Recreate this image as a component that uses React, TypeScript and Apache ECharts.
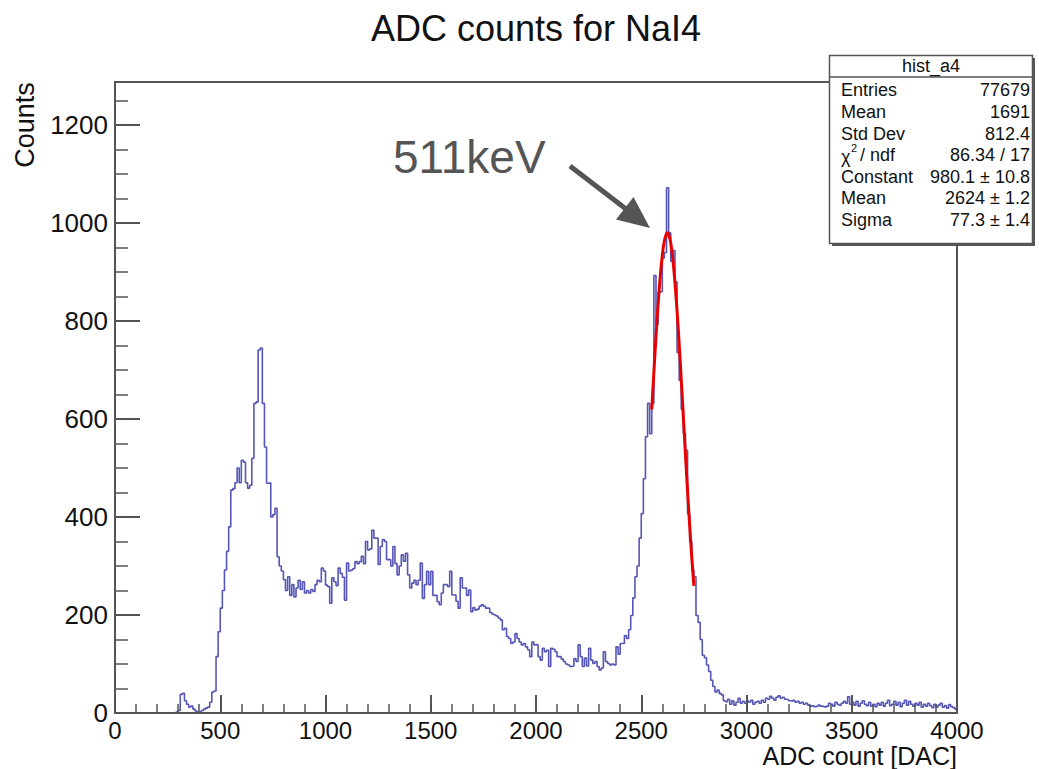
import React, { useEffect, useRef } from "react";
import * as echarts from "echarts";

// ---------- data ----------
const BIN_WIDTH = 10;
const X_MIN = 0;
const X_MAX = 4000;
const Y_MAX = 1288;

// histogram counts, one row per 100 ADC units (10 bins of width 10)
const counts: number[] = [
  0, 0, 0, 0, 0, 0, 0, 0, 0, 0, // 0
  0, 0, 0, 0, 0, 0, 0, 0, 0, 0, // 100
  0, 0, 0, 0, 0, 0, 0, 0, 0, 2, // 200
  5, 38, 40, 25, 18, 12, 14, 8, 4, 2, // 300
  3, 5, 8, 10, 12, 22, 43, 45, 115, 166, // 400
  214, 250, 292, 330, 380, 455, 458, 470, 500, 470, // 500
  516, 512, 470, 459, 465, 520, 632, 635, 741, 745, // 600
  632, 543, 469, 470, 400, 405, 418, 319, 300, 290, // 700
  272, 250, 278, 240, 262, 237, 255, 271, 252, 268, // 800
  245, 250, 245, 252, 248, 262, 271, 268, 296, 290, // 900
  261, 258, 224, 276, 268, 260, 296, 285, 277, 230, // 1000
  306, 290, 292, 295, 309, 305, 309, 320, 305, 350, // 1100
  333, 335, 373, 357, 357, 303, 340, 354, 350, 313, // 1200
  313, 300, 340, 305, 282, 300, 323, 310, 326, 282, // 1300
  255, 265, 271, 262, 271, 306, 234, 262, 289, 262, // 1400
  289, 240, 240, 227, 221, 245, 262, 262, 258, 289, // 1500
  241, 241, 228, 214, 276, 255, 255, 240, 251, 207, // 1600
  215, 210, 212, 218, 221, 218, 214, 214, 205, 202, // 1700
  200, 198, 194, 190, 170, 173, 156, 152, 142, 145, // 1800
  162, 152, 145, 139, 142, 135, 129, 115, 145, 139, // 1900
  140, 115, 108, 132, 125, 128, 95, 132, 130, 125, // 2000
  115, 115, 110, 105, 100, 98, 95, 96, 111, 105, // 2100
  139, 115, 95, 112, 96, 132, 108, 101, 105, 95, // 2200
  88, 92, 125, 105, 101, 98, 100, 98, 135, 120, // 2300
  142, 142, 158, 152, 170, 199, 235, 278, 300, 357, // 2400
  407, 478, 564, 632, 570, 632, 893, 793, 858, 860, // 2500
  929, 940, 1072, 980, 922, 944, 880, 736, 679, 620, // 2600
  571, 536, 407, 350, 292, 278, 199, 185, 150, 118, // 2700
  113, 98, 85, 67, 54, 43, 47, 40, 37, 25, // 2800
  23, 28, 18, 25, 16, 22, 30, 20, 24, 20, // 2900
  25, 22, 26, 18, 22, 24, 20, 26, 22, 30, // 3000
  28, 34, 30, 26, 32, 35, 30, 32, 28, 27, // 3100
  25, 24, 26, 22, 24, 20, 22, 18, 20, 16, // 3200
  14, 15, 13, 14, 16, 14, 13, 12, 14, 20, // 3300
  18, 14, 22, 18, 16, 20, 24, 20, 33, 18, // 3400
  22, 16, 24, 14, 20, 25, 18, 15, 22, 14, // 3500
  18, 13, 20, 16, 22, 14, 20, 26, 15, 18, // 3600
  24, 16, 22, 13, 20, 26, 16, 24, 18, 14, // 3700
  20, 16, 22, 12, 18, 14, 20, 15, 11, 18, // 3800
  12, 16, 20, 12, 15, 10, 17, 13, 11, 8, // 3900
];

// Gaussian fit curve (red), sampled points
const fitX = [2550, 2560, 2570, 2580, 2590, 2600, 2610, 2620, 2624, 2630, 2640, 2650, 2660, 2670, 2680, 2690, 2700, 2710, 2720, 2730, 2740, 2750];
const fitY = [619.8, 695.7, 767.9, 833.5, 889.7, 933.9, 964.1, 978.8, 980.1, 977.2, 959.3, 926.2, 879.3, 821.0, 753.9, 680.7, 604.5, 527.8, 453.3, 382.8, 317.8, 259.6];

const titleText = "ADC counts for NaI4";
const xAxisTitle = "ADC count [DAC]";
const yAxisTitle = "Counts";
const annotationText = "511keV";
const statsHeader = "hist_a4";
const statsNames = ["Entries", "Mean", "Std Dev", "", "Constant", "Mean", "Sigma"];
const statsValues = ["77679", "1691", "812.4", "86.34 / 17", "980.1 \u00b1 10.8", "2624 \u00b1 1.2", "77.3 \u00b1 1.4"];

const FONT = "'Liberation Sans', Arial, Helvetica, sans-serif";
const AXIS_COLOR = "#555555";
const HIST_COLOR = "#5656b4";

export default function App() {
  const ref = useRef<HTMLDivElement>(null);

  useEffect(() => {
    if (!ref.current) return;
    const chart = echarts.init(ref.current, undefined, { renderer: "svg" });

    const histData: number[][] = counts.map((v, i) => [X_MIN + i * BIN_WIDTH, v]);
    histData.push([X_MAX, counts[counts.length - 1]]);
    const fitData = fitX.map((x, i) => [x, fitY[i]]);

    const rowY = [90, 111.5, 133.5, 155, 176.5, 198, 220];
    const statsTexts: any[] = [];
    statsNames.forEach((n, i) => {
      if (n) {
        statsTexts.push({
          type: "text", z: 12,
          style: { text: n, x: 841, y: rowY[i], fontSize: 18, fontFamily: FONT, fill: "#111", align: "left", verticalAlign: "middle" },
        });
      }
      statsTexts.push({
        type: "text", z: 12,
        style: { text: statsValues[i], x: 1030, y: rowY[i], fontSize: 18, fontFamily: FONT, fill: "#111", align: "right", verticalAlign: "middle" },
      });
    });
    // chi^2 / ndf label
    statsTexts.push(
      { type: "text", z: 12, style: { text: "\u03c7", x: 841, y: rowY[3] + 2, fontSize: 18, fontFamily: FONT, fill: "#111", align: "left", verticalAlign: "middle" } },
      { type: "text", z: 12, style: { text: "2", x: 851, y: rowY[3] - 7, fontSize: 11, fontFamily: FONT, fill: "#111", align: "left", verticalAlign: "middle" } },
      { type: "text", z: 12, style: { text: "/ ndf", x: 860, y: rowY[3], fontSize: 18, fontFamily: FONT, fill: "#111", align: "left", verticalAlign: "middle" } },
    );

    const plainNumber = (v: number) => String(v);

    const option: any = {
      animation: false,
      backgroundColor: "#ffffff",
      grid: {
        left: 115, right: 82, top: 82, bottom: 56,
        show: true, borderColor: AXIS_COLOR, borderWidth: 2, backgroundColor: "transparent",
      },
      xAxis: [
        {
          type: "value", min: X_MIN, max: X_MAX, interval: 500, position: "bottom",
          axisLine: { show: true, onZero: false, lineStyle: { color: AXIS_COLOR, width: 2 } },
          axisTick: { show: true, inside: true, length: 18, lineStyle: { color: AXIS_COLOR, width: 2 } },
          axisLabel: { fontSize: 24, color: "#111", margin: 5, fontFamily: FONT, formatter: plainNumber },
          splitLine: { show: false },
          z: 5,
        },
        {
          // minor ticks every 100
          type: "value", min: X_MIN, max: X_MAX, interval: 100, position: "bottom",
          axisLine: { show: true, onZero: false, lineStyle: { color: AXIS_COLOR, width: 2 } },
          axisTick: { show: true, inside: true, length: 9, lineStyle: { color: AXIS_COLOR, width: 1.5 } },
          axisLabel: { show: false },
          splitLine: { show: false },
          z: 5,
        },
      ],
      yAxis: [
        {
          type: "value", min: 0, max: Y_MAX, interval: 200, position: "left",
          axisLine: { show: true, onZero: false, lineStyle: { color: AXIS_COLOR, width: 2 } },
          axisTick: { show: true, inside: true, length: 25, lineStyle: { color: AXIS_COLOR, width: 2 } },
          axisLabel: { fontSize: 26, color: "#111", margin: 7, fontFamily: FONT, showMaxLabel: false, formatter: plainNumber },
          splitLine: { show: false },
          z: 5,
        },
        {
          // minor ticks every 50
          type: "value", min: 0, max: Y_MAX, interval: 50, position: "left",
          axisLine: { show: true, onZero: false, lineStyle: { color: AXIS_COLOR, width: 2 } },
          axisTick: { show: true, inside: true, length: 13, lineStyle: { color: AXIS_COLOR, width: 1.5 } },
          axisLabel: { show: false },
          splitLine: { show: false },
          z: 5,
        },
      ],
      series: [
        {
          type: "line", xAxisIndex: 0, yAxisIndex: 0, data: histData, step: "end",
          symbol: "none", lineStyle: { color: HIST_COLOR, width: 1.6 }, z: 3,
        },
        {
          type: "line", xAxisIndex: 0, yAxisIndex: 0, data: fitData, smooth: true,
          symbol: "none", lineStyle: { color: "#e60000", width: 3 }, z: 4,
        },
        {
          // binds the minor-tick axes so their scales are not blank
          type: "line", xAxisIndex: 1, yAxisIndex: 1, data: histData, step: "end",
          symbol: "none", lineStyle: { opacity: 0, width: 0 }, silent: true, z: 1,
        },
      ],
      graphic: [
        {
          type: "text", z: 10,
          style: { text: titleText, x: 536, y: 28, fontSize: 36, fontFamily: FONT, fill: "#111", align: "center", verticalAlign: "middle" },
        },
        {
          type: "text", z: 10, x: 25, y: 125, rotation: Math.PI / 2,
          style: { text: yAxisTitle, x: 0, y: 0, fontSize: 27, fontFamily: FONT, fill: "#111", align: "center", verticalAlign: "middle" },
        },
        {
          type: "text", z: 10,
          style: { text: xAxisTitle, x: 957, y: 755.5, fontSize: 25, fontFamily: FONT, fill: "#111", align: "right", verticalAlign: "middle" },
        },
        {
          type: "text", z: 10,
          style: { text: annotationText, x: 393, y: 157, fontSize: 46, fontFamily: FONT, fill: "#555555", align: "left", verticalAlign: "middle" },
        },
        {
          type: "line", z: 10,
          shape: { x1: 570, y1: 166, x2: 626, y2: 209 },
          style: { stroke: "#555555", lineWidth: 5 },
        },
        {
          type: "polygon", z: 10,
          shape: { points: [[650, 228], [616, 219.5], [633.5, 197]] },
          style: { fill: "#555555" },
        },
        // stats box
        {
          type: "rect", z: 11,
          shape: { x: 832, y: 58, width: 203, height: 188 },
          style: { fill: "#555555" },
        },
        {
          type: "rect", z: 11,
          shape: { x: 829.5, y: 55.5, width: 203, height: 188 },
          style: { fill: "#ffffff", stroke: "#555555", lineWidth: 1.5 },
        },
        {
          type: "line", z: 12,
          shape: { x1: 829.5, y1: 77, x2: 1032.5, y2: 77 },
          style: { stroke: "#555555", lineWidth: 1.5 },
        },
        {
          type: "text", z: 12,
          style: { text: statsHeader, x: 931, y: 66, fontSize: 18, fontFamily: FONT, fill: "#111", align: "center", verticalAlign: "middle" },
        },
        ...statsTexts,
      ],
    };

    chart.setOption(option);
    return () => chart.dispose();
  }, []);

  return (
    <div
      ref={ref}
      style={{ position: "fixed", left: 0, top: 0, width: 1039, height: 769, background: "#fff" }}
    />
  );
}
